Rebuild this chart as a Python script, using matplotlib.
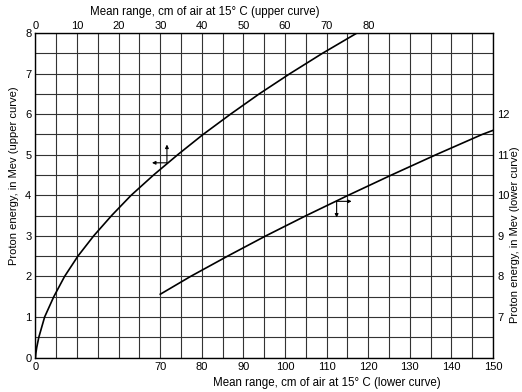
#!/usr/bin/env python3
"""
Curvas alcance-energía de protones en aire a 15 °C (dos tramos, dos escalas).
Guarda out.png.
"""
import numpy as np
import matplotlib
matplotlib.use("Agg")
import matplotlib.pyplot as plt

plt.rcParams["font.family"] = ["Liberation Sans", "DejaVu Sans"]
plt.rcParams["font.size"] = 8

# curva superior: alcance (cm, eje superior) vs energía (MeV, eje izquierdo)
upper_range = [0, 0.08, 0.3, 0.8, 2.2, 4.4, 7.0, 10.2, 14.0, 18.3, 23.0, 28.4,
               34.2, 40.3, 46.9, 53.8, 61.2, 69.0, 77.3]
upper_energy = [0, 0.1, 0.25, 0.5, 1.0, 1.5, 2.0, 2.5, 3.0, 3.5, 4.0, 4.5,
                5.0, 5.5, 6.0, 6.5, 7.0, 7.5, 8.0]

# curva inferior: alcance (cm, eje inferior) vs energía (MeV, eje derecho)
lower_range = [70, 77.3, 86.2, 95.4, 105.1, 115.2, 125.6, 136.3, 147.4, 150]
lower_energy = [7.56, 8.0, 8.5, 9.0, 9.5, 10.0, 10.5, 11.0, 11.5, 11.6]

# etiquetas de los ejes
top_ticks = [0, 10, 20, 30, 40, 50, 60, 70, 80]
bottom_ticks = [40, 70, 80, 90, 100, 110, 120, 130, 140, 150]
bottom_labels = ["0", "70", "80", "90", "100", "110", "120", "130", "140", "150"]
left_ticks = [0, 1, 2, 3, 4, 5, 6, 7, 8]
right_ticks = [7, 8, 9, 10, 11, 12]

# flechas que indican qué ejes usa cada curva (esquina, destino)
upper_arrows = [((31.6, 4.8), (28.0, 4.8)), ((31.6, 4.8), (31.6, 5.25))]
lower_arrows = [((112.4, 9.85), (116.0, 9.85)), ((112.4, 9.85), (112.4, 9.45))]

fig = plt.figure(figsize=(5.22, 3.92), dpi=100)
rect = [0.068, 0.088, 0.8765, 0.8278]
ax = fig.add_axes(rect)
ax2 = fig.add_axes(rect, frameon=False)
ax2.patch.set_visible(False)

# ejes principales (curva superior)
ax.set_xlim(0, 110)
ax.set_ylim(0, 8)
ax.xaxis.tick_top()
ax.set_xticks(top_ticks)
ax.set_yticks(left_ticks)
ax.set_xticks(np.arange(0, 111, 5), minor=True)
ax.set_yticks(np.arange(0, 8.01, 0.5), minor=True)
ax.grid(which="both", color="0.2", lw=0.8)
ax.tick_params(which="both", length=0)
ax.tick_params(axis="x", pad=1.5)
ax.tick_params(axis="y", pad=3)
for s in ax.spines.values():
    s.set_linewidth(1.0)
ax.plot(upper_range, upper_energy, color="black", lw=1.2)

# ejes secundarios (curva inferior)
ax2.set_xlim(40, 150)
ax2.set_ylim(6, 14)
ax2.yaxis.tick_right()
ax2.set_xticks(bottom_ticks)
ax2.set_xticklabels(bottom_labels)
ax2.set_yticks(right_ticks)
ax2.tick_params(which="both", length=0)
ax2.tick_params(axis="x", pad=3)
ax2.tick_params(axis="y", pad=3)
ax2.plot(lower_range, lower_energy, color="black", lw=1.2)

arrow_kw = dict(arrowstyle="-|>", color="black", lw=0.8, mutation_scale=5,
                shrinkA=0, shrinkB=0)
for start, end in upper_arrows:
    ax.annotate("", xy=end, xytext=start, arrowprops=arrow_kw)
for start, end in lower_arrows:
    ax2.annotate("", xy=end, xytext=start, arrowprops=arrow_kw)

# títulos de ejes
fig.text(205 / 522, 1 - 12 / 392, "Mean range, cm of air at 15° C (upper curve)",
         ha="center", va="center", fontsize=8.3)
fig.text(327 / 522, 1 - 383 / 392, "Mean range, cm of air at 15° C (lower curve)",
         ha="center", va="center", fontsize=8.3)
fig.text(14 / 522, 1 - 176 / 392, "Proton energy, in Mev (upper curve)",
         ha="center", va="center", rotation=90)
fig.text(515 / 522, 1 - 235 / 392, "Proton energy, in Mev (lower curve)",
         ha="center", va="center", rotation=90)

fig.savefig("out.png", dpi=100)
plt.close(fig)
